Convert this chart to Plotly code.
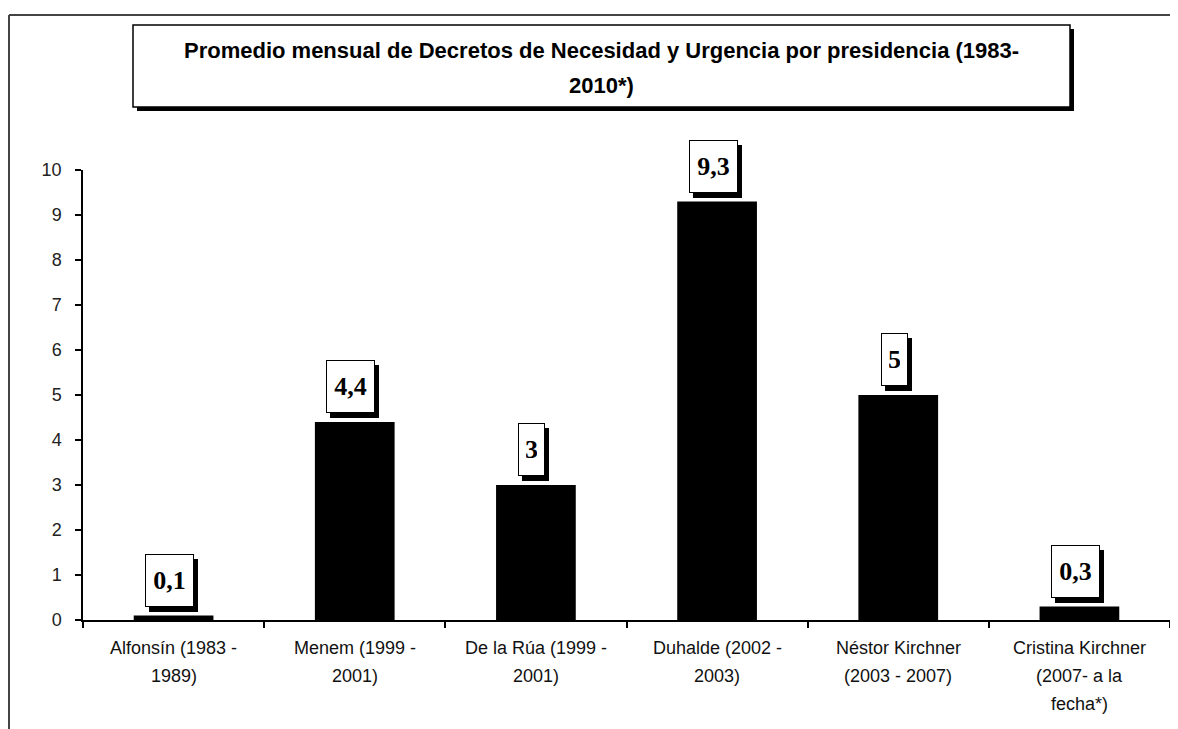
import plotly.graph_objects as go

# ---- data ----
categories = [
    ["Alfonsín (1983 -", "1989)"],
    ["Menem (1999 -", "2001)"],
    ["De la Rúa (1999 -", "2001)"],
    ["Duhalde (2002 -", "2003)"],
    ["Néstor Kirchner", "(2003 - 2007)"],
    ["Cristina Kirchner", "(2007- a la", "fecha*)"],
]
values = [0.1, 4.4, 3, 9.3, 5, 0.3]
value_labels = ["0,1", "4,4", "3", "9,3", "5", "0,3"]
title_lines = [
    "Promedio mensual de Decretos de Necesidad y Urgencia por presidencia (1983-",
    "2010*)",
]
y_ticks = list(range(0, 11))

cat_keys = ["<br>".join(c) for c in categories]

OFF = 8  # page body offset
W, H = 1178 - OFF, 729 - OFF
ML, MR, MT, MB = 83 - OFF, 8, 170 - OFF, 109
PW, PH = W - ML - MR, H - MT - MB


def px_x(x):
    return (x - OFF - ML) / PW


def px_y(y):
    return (H - MB - (y - OFF)) / PH


fig = go.Figure()
fig.add_trace(go.Bar(
    x=cat_keys, y=values, width=0.44,
    marker=dict(color="black", line=dict(width=0)),
    hoverinfo="skip", showlegend=False,
))

annotations = []
label_font = dict(family="Liberation Serif, Times New Roman, serif", size=26, color="black")
for k, v, t in zip(cat_keys, values, value_labels):
    bw = 11 * len(t)
    # shadow
    annotations.append(dict(
        x=k, y=v, xref="x", yref="y", text=" ", showarrow=False,
        yanchor="bottom", xshift=0, yshift=4, width=bw, height=37, borderpad=7,
        font=label_font, bgcolor="black",
        bordercolor="black", borderwidth=1,
    ))
    annotations.append(dict(
        x=k, y=v, xref="x", yref="y", text="<b>" + t + "</b>", showarrow=False,
        yanchor="bottom", xshift=-4, yshift=9, width=bw, height=37, borderpad=7,
        font=label_font, bgcolor="white",
        bordercolor="black", borderwidth=1,
    ))

# category labels (multi-line, wide spacing)
cat_font = dict(family="Liberation Sans, Arial, sans-serif", size=18, color="#111")
for k, lines in zip(cat_keys, categories):
    for i, line in enumerate(lines):
        annotations.append(dict(
            x=k, y=0, xref="x", yref="paper", text=line, showarrow=False,
            yanchor="middle", yshift=-28 - 28 * i, font=cat_font,
        ))

# title
title_font = dict(family="Liberation Sans, Arial, sans-serif", size=22, color="black")
for yy, line in zip([50, 86], title_lines):
    annotations.append(dict(
        x=px_x(601.5), y=px_y(yy), xref="paper", yref="paper",
        text="<b>" + line + "</b>", showarrow=False, font=title_font,
        xanchor="center", yanchor="middle",
    ))

shapes = [
    # outer frame (top and left)
    dict(type="line", xref="paper", yref="paper", x0=px_x(9), y0=px_y(15),
         x1=px_x(1190), y1=px_y(15), line=dict(color="#444", width=2)),
    dict(type="line", xref="paper", yref="paper", x0=px_x(9), y0=px_y(15),
         x1=px_x(9), y1=px_y(740), line=dict(color="#444", width=2)),
    # title box shadow
    dict(type="rect", xref="paper", yref="paper", x0=px_x(137), y0=px_y(111),
         x1=px_x(1074), y1=px_y(29), fillcolor="black", line=dict(width=0), layer="below"),
    # title box
    dict(type="rect", xref="paper", yref="paper", x0=px_x(133), y0=px_y(107),
         x1=px_x(1070), y1=px_y(25), fillcolor="white", line=dict(color="black", width=1.5),
         layer="below"),
]

fig.update_layout(
    width=W, height=H,
    margin=dict(l=ML, r=MR, t=MT, b=MB),
    paper_bgcolor="white", plot_bgcolor="white",
    annotations=annotations, shapes=shapes,
    bargap=0.56,
    xaxis=dict(
        type="category", showticklabels=False, showgrid=False,
        showline=True, linecolor="black", linewidth=1.5,
        ticks="outside", tickson="boundaries", ticklen=6, tickcolor="black",
        tickwidth=1.5, zeroline=False,
    ),
    yaxis=dict(
        range=[0, 10], tickvals=y_ticks, showgrid=False, zeroline=False,
        showline=True, linecolor="black", linewidth=1.5,
        ticks="outside", ticklen=6, tickcolor="black", tickwidth=1.5,
        tickfont=dict(family="Liberation Sans, Arial, sans-serif", size=18, color="#222"),
        ticklabelstandoff=10,
    ),
)

fig.write_html("out.html")
